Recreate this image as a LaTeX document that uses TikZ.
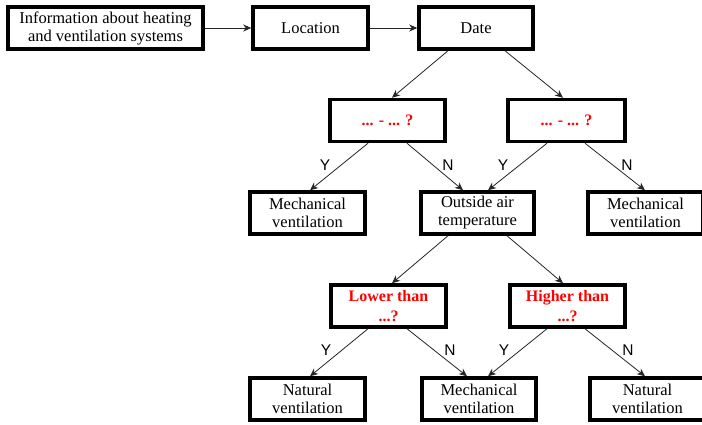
\documentclass[tikz,border=0pt]{standalone}
\usepackage{fontspec}
\setmainfont{Liberation Serif}
\newfontfamily\sansf{Liberation Sans}
\usetikzlibrary{arrows.meta}
\begin{document}
\begin{tikzpicture}[x=1pt,y=-1pt,
 box/.style={draw, line width=3.5pt, rectangle, minimum width=115pt, minimum height=42pt, inner sep=0pt, align=center, font=\fontsize{16.5}{18}\selectfont},
 qbox/.style={box, text=red, font=\fontsize{16}{20}\bfseries\selectfont},
 conn/.style={draw=black!85, line width=0.8pt, -{Stealth[length=8pt,width=7pt,inset=2.5pt]}},
 yn/.style={font=\sansf\fontsize{15.5}{16}\selectfont, inner sep=0pt}]
\useasboundingbox (0,0) rectangle (702,424);
\fill[white] (0,0) rectangle (702,424);
% top row
\node[box, minimum width=195pt] (info) at (105.5,28) {Information about heating\\and ventilation systems};
\node[box] (loc) at (310.5,28) {Location};
\node[box, minimum width=114pt] (date) at (476,28) {Date};
% questions
\node[qbox] (q1) at (387.5,120.5) {... - ... ?};
\node[qbox, minimum width=117pt] (q2) at (566.5,120.5) {... - ... ?};
% row 3
\node[box] (mech1) at (307.5,213) {Mechanical\\ventilation};
\node[box, minimum width=113pt] (oat) at (477.5,213) {Outside air\\temperature};
\node[box] (mech2) at (645.5,213) {Mechanical\\ventilation};
% row 4
\node[qbox] (lower) at (388.5,306) {Lower than\\...?};
\node[qbox] (higher) at (567.5,306) {Higher than\\...?};
% row 5
\node[box] (nat1) at (307.5,399) {Natural\\ventilation};
\node[box, minimum width=114pt] (mech3) at (479,399) {Mechanical\\ventilation};
\node[box] (nat2) at (647.5,399) {Natural\\ventilation};
% connectors
\draw[conn] (info.east) -- (loc.west);
\draw[conn] (loc.east) -- (date.west);
\draw[conn] ([xshift=-28pt]date.south) -- ([xshift=4.5pt]q1.north);
\draw[conn] ([xshift=29pt]date.south) -- ([xshift=-3.5pt]q2.north);
\draw[conn] ([xshift=-19.5pt]q1.south) -- ([xshift=2.5pt]mech1.north);
\draw[conn] ([xshift=19.5pt]q1.south) -- ([xshift=-14.5pt]oat.north);
\draw[conn] ([xshift=-19.5pt]q2.south) -- ([xshift=10.5pt]oat.north);
\draw[conn] ([xshift=18.5pt]q2.south) -- ([xshift=-0.5pt]mech2.north);
\draw[conn] ([xshift=-29.5pt]oat.south) -- ([xshift=3.5pt]lower.north);
\draw[conn] ([xshift=29.5pt]oat.south) -- ([xshift=-4.5pt]higher.north);
\draw[conn] ([xshift=-20.5pt]lower.south) -- ([xshift=2.5pt]nat1.north);
\draw[conn] ([xshift=18.5pt]lower.south) -- ([xshift=-12pt]mech3.north);
\draw[conn] ([xshift=-20.5pt]higher.south) -- ([xshift=9pt]mech3.north);
\draw[conn] ([xshift=17.5pt]higher.south) -- ([xshift=-2.5pt]nat2.north);
% labels
\node[yn] (y1) at (325,165) {Y};
\node[yn] (n1) at (448,165) {N};
\node[yn] (y2) at (503,165) {Y};
\node[yn] (n2) at (627,165) {N};
\node[yn] (y3) at (326,350) {Y};
\node[yn] (n3) at (450,350) {N};
\node[yn] (y4) at (504,350) {Y};
\node[yn] (n4) at (628,350) {N};
\end{tikzpicture}
\end{document}
